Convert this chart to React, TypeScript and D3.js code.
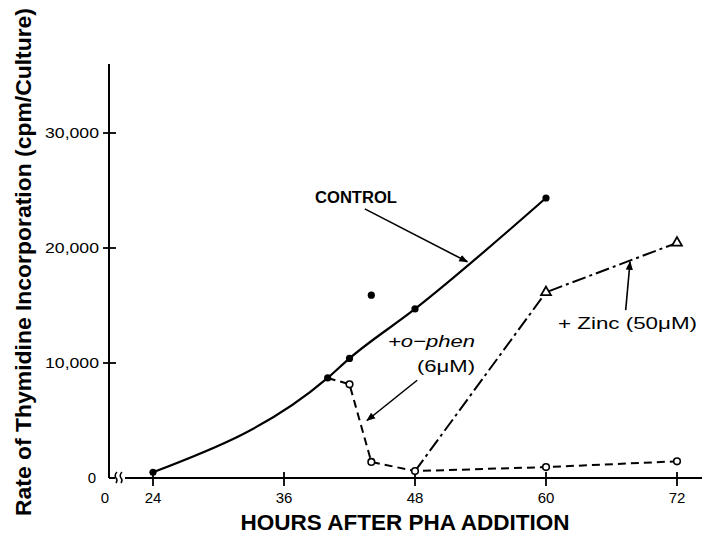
import React from "react";
import * as d3 from "d3";

const width = 702;
const height = 535;
const font = "'Liberation Sans', Arial, sans-serif";

// axes
const hourTicks = [24, 36, 48, 60, 72];
const rateTicks = [10000, 20000, 30000];

// control (filled dots); 44 h point sits off the curve
const controlHours = [24, 40, 42, 48, 60];
const controlRates = [500, 8700, 10400, 14700, 24350];
const outlierHours = [44];
const outlierRates = [15900];

// + o-phen (6 uM), branches off control at 40 h
const phenHours = [40, 42, 44, 48, 60, 72];
const phenRates = [8700, 8150, 1400, 600, 950, 1450];

// + zinc (50 uM), added at 48 h
const zincHours = [48, 60, 72];
const zincRates = [600, 16150, 20450];

// annotation arrows [from, to] in data units
const controlArrow = [[43.4, 23400], [52.8, 18800]];
const phenArrow = [[48.2, 8500], [43.6, 5000]];
const zincArrow = [[67.3, 14600], [67.7, 18800]];

const x = d3.scaleLinear().domain([24, 72]).range([153, 677]);
const y = d3.scaleLinear().domain([0, 36000]).range([478, 64]);
const axisX = 109;
const axisY = y(0);

const zip = (hs: number[], vs: number[]) => hs.map((h, i) => [h, vs[i]] as [number, number]);

const smoothLine = d3
  .line<[number, number]>()
  .x(d => x(d[0]))
  .y(d => y(d[1]))
  .curve(d3.curveMonotoneX);
const straightLine = d3
  .line<[number, number]>()
  .x(d => x(d[0]))
  .y(d => y(d[1]));

const triangle = d3.symbol().type(d3.symbolTriangle).size(42)();

function Arrow({ pts }: { pts: number[][] }) {
  return (
    <line
      x1={x(pts[0][0])}
      y1={y(pts[0][1])}
      x2={x(pts[1][0])}
      y2={y(pts[1][1])}
      stroke="#000"
      strokeWidth={1.6}
      markerEnd="url(#arrowhead)"
    />
  );
}

export default function App() {
  const control = zip(controlHours, controlRates);
  const phen = zip(phenHours, phenRates);
  const zinc = zip(zincHours, zincRates);
  const outliers = zip(outlierHours, outlierRates);

  return (
    <svg
      width={width}
      height={height}
      style={{ position: "absolute", left: 0, top: 0, background: "#fff" }}
    >
      <defs>
        <marker
          id="arrowhead"
          viewBox="0 0 10 10"
          refX={9}
          refY={5}
          markerWidth={9}
          markerHeight={9}
          markerUnits="userSpaceOnUse"
          orient="auto"
        >
          <path d="M0,1 L10,5 L0,9 z" fill="#000" />
        </marker>
      </defs>

      {/* y axis */}
      <line x1={axisX} y1={y(36000)} x2={axisX} y2={axisY} stroke="#000" strokeWidth={2} />
      {rateTicks.map(t => (
        <g key={t}>
          <line x1={axisX - 6} x2={axisX + 7} y1={y(t)} y2={y(t)} stroke="#000" strokeWidth={1.8} />
          <text
            x={axisX - 10}
            y={y(t) + 5}
            textAnchor="end"
            fontFamily={font}
            fontSize={15}
            textLength={54}
            lengthAdjust="spacingAndGlyphs"
          >
            {d3.format(",")(t)}
          </text>
        </g>
      ))}
      <text x={axisX - 17} y={axisY + 5} textAnchor="middle" fontFamily={font} fontSize={15}>
        0
      </text>

      {/* x axis with break */}
      <line x1={axisX} x2={axisX + 6} y1={axisY} y2={axisY} stroke="#000" strokeWidth={2} />
      <path
        d={`M${axisX + 7},${axisY + 5} q2,-3 0,-5 q-2,-3 1,-6 M${axisX + 12},${axisY + 5} q2,-3 0,-5 q-2,-3 1,-6`}
        fill="none"
        stroke="#000"
        strokeWidth={1.5}
      />
      <line x1={axisX + 16} x2={width} y1={axisY} y2={axisY} stroke="#000" strokeWidth={2} />
      {hourTicks.map(t => (
        <g key={t}>
          <line x1={x(t)} x2={x(t)} y1={axisY - 6} y2={axisY + 8} stroke="#000" strokeWidth={1.8} />
          <text x={x(t)} y={axisY + 25} textAnchor="middle" fontFamily={font} fontSize={15}>
            {t}
          </text>
        </g>
      ))}
      <text x={axisX - 4} y={axisY + 25} textAnchor="middle" fontFamily={font} fontSize={15}>
        0
      </text>

      {/* axis titles */}
      <text
        transform={`translate(31, 262) rotate(-90)`}
        textAnchor="middle"
        fontFamily={font}
        fontSize={22}
        fontWeight="bold"
        textLength={508}
        lengthAdjust="spacingAndGlyphs"
      >
        Rate of Thymidine Incorporation (cpm/Culture)
      </text>
      <text
        x={405}
        y={530}
        textAnchor="middle"
        fontFamily={font}
        fontSize={22}
        fontWeight="bold"
        textLength={329}
        lengthAdjust="spacingAndGlyphs"
      >
        HOURS AFTER PHA ADDITION
      </text>

      {/* series */}
      <path d={smoothLine(control) || ""} fill="none" stroke="#000" strokeWidth={2.2} />
      <path
        d={straightLine(phen) || ""}
        fill="none"
        stroke="#000"
        strokeWidth={2}
        strokeDasharray="8 5"
      />
      <path
        d={straightLine(zinc) || ""}
        fill="none"
        stroke="#000"
        strokeWidth={2}
        strokeDasharray="14 4 3 4"
      />

      {control.concat(outliers).map((d, i) => (
        <circle key={"c" + i} cx={x(d[0])} cy={y(d[1])} r={3.6} fill="#000" />
      ))}
      {phen.slice(1).map((d, i) => (
        <circle
          key={"p" + i}
          cx={x(d[0])}
          cy={y(d[1])}
          r={3.3}
          fill="#fff"
          stroke="#000"
          strokeWidth={1.6}
        />
      ))}
      {zinc.slice(1).map((d, i) => (
        <path
          key={"z" + i}
          d={triangle || ""}
          transform={`translate(${x(d[0])},${y(d[1])})`}
          fill="#fff"
          stroke="#000"
          strokeWidth={1.8}
        />
      ))}

      {/* annotations */}
      <text
        x={315}
        y={203}
        fontFamily={font}
        fontSize={16}
        fontWeight="bold"
        textLength={82}
        lengthAdjust="spacingAndGlyphs"
      >
        CONTROL
      </text>
      <Arrow pts={controlArrow} />

      <text x={388} y={347} fontFamily={font} fontSize={17} fontStyle="italic" textLength={87} lengthAdjust="spacingAndGlyphs">
        +o−phen
      </text>
      <text x={417} y={372} fontFamily={font} fontSize={16} textLength={58} lengthAdjust="spacingAndGlyphs">
        (6μM)
      </text>
      <Arrow pts={phenArrow} />

      <text x={558} y={329} fontFamily={font} fontSize={16} textLength={139} lengthAdjust="spacingAndGlyphs">
        + Zinc (50μM)
      </text>
      <Arrow pts={zincArrow} />
    </svg>
  );
}
